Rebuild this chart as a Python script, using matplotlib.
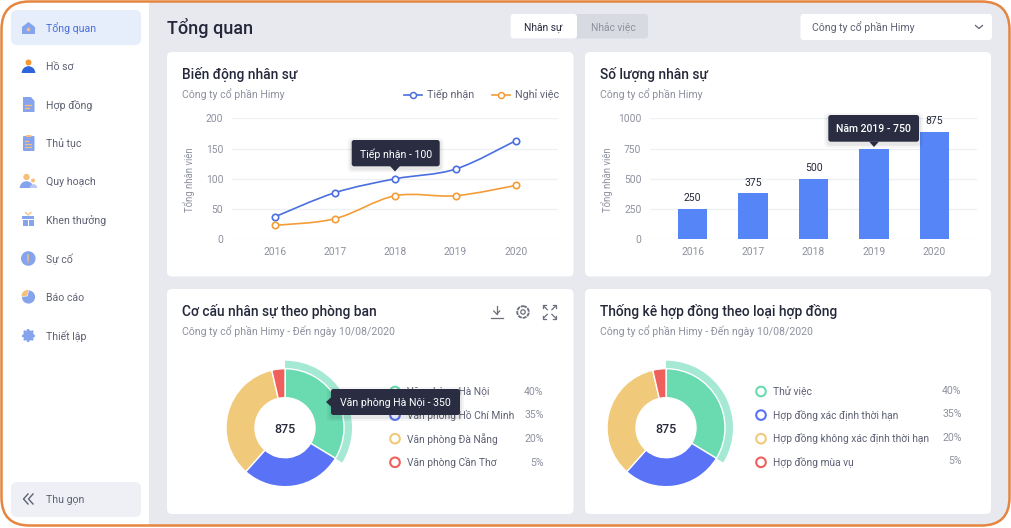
# lib data visualizations
import matplotlib
matplotlib.use("Agg")
import matplotlib.pyplot as plt
from matplotlib.patches import FancyBboxPatch, Rectangle, Circle, Polygon, PathPatch, Wedge
from matplotlib.path import Path
# ----------------------------------------------------------------------------------------

W, H = 1012, 528
plt.rcParams["font.family"] = ["Roboto", "DejaVu Sans"]

# chart data
years = ["2016", "2017", "2018", "2019", "2020"]
tiep_nhan = [37, 77, 100, 116, 163]
nghi_viec = [23, 34, 72, 72, 89]
line_yticks = [0, 50, 100, 150, 200]

bar_heights = [250, 382, 498, 750, 890]
# the 2019 label sits under the tooltip in the picture
bar_labels = ["250", "375", "500", "", "875"]
bar_yticks = [0, 250, 500, 750, 1000]

# slice sizes as drawn, the percent column is what the card prints
donut_shares = [33.7, 27.9, 34.8, 3.6]
donut_colors = ["#6adab0", "#5a72f5", "#f0ca7a", "#ef5f5c"]
donut_percents = ["40%", "35%", "20%", "5%"]
phong_ban = ["Văn phòng Hà Nội", "Văn phòng Hồ Chí Minh", "Văn phòng Đà Nẵng", "Văn phòng Cần Thơ"]
loai_hop_dong = ["Thử việc", "Hợp đồng xác định thời hạn", "Hợp đồng không xác định thời hạn", "Hợp đồng mùa vụ"]

menu_items = ["Tổng quan", "Hồ sơ", "Hợp đồng", "Thủ tục", "Quy hoạch", "Khen thưởng", "Sự cố", "Báo cáo", "Thiết lập"]

# colors
DARK = "#25283b"
GREY = "#8e919f"
MENU = "#5e6174"
GRID = "#eff0f4"
BLUE_LINE = "#4a6fe0"
ORANGE = "#f49d37"
ICON_BLUE = "#86a3ee"
ICON_ORANGE = "#f6c07a"
TIP = "#2a2d42"
# ----------------------------------------------------------------------------------------

def px_axes(fig, x0, y0, x1, y1, zorder=2):
    ax = fig.add_axes([x0 / W, 1 - y1 / H, (x1 - x0) / W, (y1 - y0) / H], zorder=zorder)
    ax.patch.set_alpha(0)
    return ax

def box(ax, x0, y0, x1, y1, r, color, **kw):
    p = FancyBboxPatch((x0, y0), x1 - x0, y1 - y0, boxstyle="round,pad=0,rounding_size=%s" % r,
                       facecolor=color, edgecolor="none", **kw)
    ax.add_patch(p)
    return p

def label(ax, x, y, s, size=10, color=DARK, ha="left", weight="normal"):
    ax.text(x, y - 0.8, s, fontsize=size * 0.72, color=color, ha=ha, va="center_baseline", weight=weight)

def card_title(ax, x, title, sub, y):
    label(ax, x, y, title, size=13.7, weight=500)
    label(ax, x, y + 20, sub, size=10.5, color=GREY)

def tooltip(ax, x0, y0, x1, y1, text, tip, weight=400):
    # soft shadow, then body and pointer
    for grow, alpha in [(4, 0.04), (2, 0.06)]:
        box(ax, x0 - grow, y0 - grow + 2, x1 + grow, y1 + grow + 2, 4, "#000000", alpha=alpha)
    box(ax, x0, y0, x1, y1, 2.5, TIP)
    ax.add_patch(Polygon(tip, closed=True, facecolor=TIP, edgecolor="none"))
    label(ax, (x0 + x1) / 2, (y0 + y1) / 2 + 0.5, text, size=10.5, color="white", ha="center", weight=weight)

def smooth_path(xs, ys):
    # catmull-rom through the data points, as bezier segments
    verts = [(xs[0], ys[0])]
    codes = [Path.MOVETO]
    n = len(xs)
    for i in range(n - 1):
        p0 = max(i - 1, 0)
        p3 = min(i + 2, n - 1)
        c1 = (xs[i] + (xs[i + 1] - xs[p0]) / 6, ys[i] + (ys[i + 1] - ys[p0]) / 6)
        c2 = (xs[i + 1] - (xs[p3] - xs[i]) / 6, ys[i + 1] - (ys[p3] - ys[i]) / 6)
        verts += [c1, c2, (xs[i + 1], ys[i + 1])]
        codes += [Path.CURVE4] * 3
    return Path(verts, codes)

def style_axes(ax, yticks, ymax):
    ax.set_xlim(-0.707, 4.70)
    ax.set_ylim(0, ymax)
    ax.set_xticks(range(len(years)))
    ax.set_xticklabels(years)
    ax.set_yticks(yticks)
    ax.grid(True, axis="y", color=GRID, linewidth=1)
    ax.set_axisbelow(True)
    ax.tick_params(length=0, labelsize=7.4, labelcolor=GREY)
    ax.tick_params(axis="x", pad=5.5)
    ax.tick_params(axis="y", pad=6.2)
    for s in ax.spines.values():
        s.set_visible(False)
    ax.set_ylabel("Tổng nhân viên", fontsize=6.9, color=GREY)
    ax.yaxis.set_label_coords(-0.114, 0.49)

def donut(fig, cx, cy):
    ax = px_axes(fig, cx - 72, cy - 72, cx + 72, cy + 72)
    # lighter ring on the hovered slice
    ax.pie([donut_shares[0], 100 - donut_shares[0]], radius=67, startangle=90, counterclock=False,
           colors=["#a5e9d5", "none"], wedgeprops={"width": 10, "linewidth": 0})
    ax.pie(donut_shares, radius=59, startangle=90, counterclock=False, colors=donut_colors,
           wedgeprops={"width": 29, "edgecolor": "white", "linewidth": 1.0})
    ax.set_xlim(-72, 72)
    ax.set_ylim(-72, 72)
    ax.set_aspect("equal")
    ax.text(0, 0, "875", fontsize=9, weight=500, color=DARK, ha="center", va="center_baseline")

def donut_legend(ax, ring_x, text_x, pct_x, names, pct_dy):
    for i, (name, pct) in enumerate(zip(names, donut_percents)):
        y = 391.5 + i * 23.6
        ax.add_patch(Circle((ring_x, y), 4.8, facecolor="white", edgecolor=donut_colors[i], linewidth=1.5))
        label(ax, text_x, y, name, size=10.25, color=MENU)
        label(ax, pct_x, y + pct_dy, pct, size=10.5, color=GREY, ha="right")
# ----------------------------------------------------------------------------------------

def draw_icons(ax):
    cx = 28
    # tong quan
    ax.add_patch(Polygon([(22, 27), (28.5, 22), (35, 27), (35, 34), (22, 34)], facecolor=ICON_BLUE, edgecolor="none"))
    ax.add_patch(Circle((28.5, 29.5), 1.8, facecolor=ICON_ORANGE, edgecolor="none"))
    # ho so
    ax.add_patch(Circle((cx + 0.5, 62.5), 3, facecolor="#f59a33", edgecolor="none"))
    ax.add_patch(Wedge((cx + 0.5, 73), 6.8, 180, 360, facecolor="#2f65dc", edgecolor="none"))
    # hop dong
    ax.add_patch(Polygon([(23, 97), (31, 97), (34.5, 101), (34.5, 112), (23, 112)], facecolor=ICON_BLUE, edgecolor="none"))
    ax.plot([25, 31], [104.5, 104.5], color=ICON_ORANGE, linewidth=1)
    ax.plot([25, 29], [107.5, 107.5], color=ICON_ORANGE, linewidth=1)
    # thu tuc
    box(ax, 23, 136, 34.5, 151, 1, ICON_BLUE)
    box(ax, 26, 135, 31.5, 137, 0.8, ICON_ORANGE)
    for y, x1 in [(141, 28), (144, 31), (146.5, 31)]:
        ax.plot([25.5, x1], [y, y], color=ICON_ORANGE, linewidth=0.9)
    # quy hoach
    ax.add_patch(Circle((26.5, 177), 3.2, facecolor=ICON_ORANGE, edgecolor="none"))
    ax.add_patch(Wedge((26.5, 188), 6.8, 180, 360, facecolor=ICON_BLUE, edgecolor="none"))
    ax.add_patch(Circle((33, 180.5), 2, facecolor=ICON_ORANGE, edgecolor="none"))
    ax.add_patch(Wedge((33.5, 188), 3.8, 180, 360, facecolor="#b9c9f3", edgecolor="none"))
    # khen thuong
    ax.add_patch(Rectangle((22, 216), 12.5, 3, facecolor=ICON_BLUE, edgecolor="none"))
    ax.add_patch(Rectangle((22.7, 220), 5, 6, facecolor=ICON_BLUE, edgecolor="none"))
    ax.add_patch(Rectangle((29, 220), 5, 6, facecolor=ICON_BLUE, edgecolor="none"))
    ax.plot([25.5, 28.2, 31], [212.5, 215, 212.5], color=ICON_ORANGE, linewidth=0.9)
    # su co
    ax.add_patch(Circle((28.3, 258.5), 7.3, facecolor=ICON_BLUE, edgecolor="none"))
    ax.plot([28.3, 28.3], [254.5, 259.5], color=ICON_ORANGE, linewidth=1.1)
    ax.add_patch(Circle((28.3, 262), 0.7, facecolor=ICON_ORANGE, edgecolor="none"))
    # bao cao
    ax.add_patch(Circle((28.5, 297), 6.6, facecolor=ICON_BLUE, edgecolor="none"))
    ax.add_patch(Wedge((27.5, 296), 6.3, 175, 280, facecolor=ICON_ORANGE, edgecolor="white", linewidth=0.4))
    # thiet lap
    ax.add_patch(Circle((28.5, 335.5), 5.4, facecolor=ICON_BLUE, edgecolor="none"))
    for a, b in [((22, 335.5), (35, 335.5)), ((28.5, 329), (28.5, 342)), ((23.9, 330.9), (33.1, 340.1)), ((23.9, 340.1), (33.1, 330.9))]:
        ax.plot([a[0], b[0]], [a[1], b[1]], color=ICON_BLUE, linewidth=1.6, solid_capstyle="butt")
    ax.add_patch(Circle((28.5, 335.5), 2.4, facecolor=ICON_ORANGE, edgecolor="none"))

def draw_tools(ax):
    c = "#6b6e7d"
    lw = 0.9
    # download
    x = 496.7
    ax.plot([x, x], [306, 314], color=c, linewidth=lw)
    ax.plot([x - 3, x, x + 3], [311, 314, 311], color=c, linewidth=lw)
    ax.plot([x - 6, x + 6], [317.5, 317.5], color=c, linewidth=lw)
    # settings
    ax.add_patch(Circle((523, 312), 5.8, facecolor="none", edgecolor=c, linewidth=1.3, linestyle=(0, (2.2, 0.5))))
    ax.add_patch(Circle((523, 312), 2.2, facecolor="none", edgecolor=c, linewidth=lw))
    # expand
    cx, cy, o, i = 549.6, 312, 6.7, 2.3
    for sx in (-1, 1):
        for sy in (-1, 1):
            ax.plot([cx + sx * (o - 3), cx + sx * o, cx + sx * o], [cy + sy * o, cy + sy * o, cy + sy * (o - 3)], color=c, linewidth=lw)
            ax.plot([cx + sx * i, cx + sx * (o - 0.6)], [cy + sy * i, cy + sy * (o - 0.6)], color=c, linewidth=lw)
# ----------------------------------------------------------------------------------------

fig = plt.figure(figsize=(W / 100, H / 100), dpi=100, facecolor="white")

# page layer, axes in pixels
bg = fig.add_axes([0, 0, 1, 1], zorder=0)
bg.set_xlim(0, W)
bg.set_ylim(H, 0)
bg.axis("off")

frame = box(bg, 1.5, 1.5, 1009.5, 525.5, 28, "#e8e9ef")
side = Rectangle((0, 0), 149.5, H, facecolor="white", edgecolor="none")
bg.add_patch(side)
side.set_clip_path(frame)

# sidebar
box(bg, 11, 10, 141, 45, 6, "#e6edfb")
menu_y = [28, 66.6, 105, 143.5, 181.7, 220, 258.7, 297.5, 336]
for i, (name, y) in enumerate(zip(menu_items, menu_y)):
    label(bg, 46, y, name, size=10.5, color="#4a6fdc" if i == 0 else MENU)
draw_icons(bg)
box(bg, 11, 482, 141, 517, 6, "#eff0f6")
for dx in (0, 5):
    bg.plot([28 + dx, 23.5 + dx, 28 + dx], [494, 499, 504], color=MENU, linewidth=1)
label(bg, 46, 500, "Thu gọn", size=10.5, color=MENU)

# header
label(bg, 167, 27, "Tổng quan", size=18, weight=500)
box(bg, 510.5, 14, 648, 38.5, 3, "#d8dae2")
box(bg, 510.5, 14, 577, 38.5, 3, "white")
label(bg, 543, 26.5, "Nhân sự", size=10.2, ha="center")
label(bg, 613, 26.5, "Nhắc việc", size=10.2, color=GREY, ha="center")
box(bg, 800.5, 14, 992, 40, 3, "white")
label(bg, 812, 27, "Công ty cổ phần Himy", size=10.5, color=MENU)
bg.plot([975.5, 979, 982.5], [25.5, 28.5, 25.5], color=MENU, linewidth=0.9)

# cards
box(bg, 167, 52, 573.5, 276.5, 5, "white")
box(bg, 585, 52, 991, 276.5, 5, "white")
box(bg, 167, 289, 573.5, 514, 5, "white")
box(bg, 585, 289, 991, 514, 5, "white")

card_title(bg, 182, "Biến động nhân sự", "Công ty cổ phần Himy", 74)
card_title(bg, 600, "Số lượng nhân sự", "Công ty cổ phần Himy", 74)
card_title(bg, 182, "Cơ cấu nhân sự theo phòng ban", "Công ty cổ phần Himy - Đến ngày 10/08/2020", 311)
card_title(bg, 600, "Thống kê hợp đồng theo loại hợp đồng", "Công ty cổ phần Himy - Đến ngày 10/08/2020", 311)
draw_tools(bg)

# line legend
for x0, color, name in [(404, BLUE_LINE, "Tiếp nhận"), (492, ORANGE, "Nghỉ việc")]:
    bg.plot([x0, x0 + 18], [94.5, 94.5], color=color, linewidth=1.2)
    bg.plot([x0 + 9], [94.5], marker="o", markersize=4.3, markerfacecolor="white", markeredgecolor=color, markeredgewidth=1.1)
    label(bg, x0 + 23.5, 94.5, name, size=10.8, color=MENU)

# line chart
ax1 = px_axes(fig, 232, 118.3, 558, 239.3)
style_axes(ax1, line_yticks, 200)
xs = list(range(len(years)))
for values, color in [(tiep_nhan, BLUE_LINE), (nghi_viec, ORANGE)]:
    ax1.add_patch(PathPatch(smooth_path(xs, values), facecolor="none", edgecolor=color, linewidth=1.2, zorder=3))
    ax1.plot(xs, values, linestyle="none", marker="o", markersize=4.6, markerfacecolor="white",
             markeredgecolor=color, markeredgewidth=1.2, zorder=4, clip_on=False)

# bar chart
ax2 = px_axes(fig, 650, 118.3, 976.7, 239.3)
style_axes(ax2, bar_yticks, 1000)
bars = ax2.bar(xs, bar_heights, width=0.485, color="#5585f7", zorder=3)
ax2.bar_label(bars, labels=bar_labels, padding=4, fontsize=7.5, color=DARK, clip_on=False)

# donuts
donut(fig, 285, 427.7)
donut(fig, 666, 427.7)
donut_legend(bg, 395, 406.7, 543.7, phong_ban, 0)
donut_legend(bg, 761, 773.3, 961.7, loai_hop_dong, -1)

# tooltips go above everything
top = px_axes(fig, 0, 0, W, H, zorder=10)
top.set_xlim(0, W)
top.set_ylim(H, 0)
top.axis("off")
tooltip(top, 351.7, 140, 439.7, 166.3, "Tiếp nhận - 100", [(390, 166), (400, 166), (395, 171.5)])
tooltip(top, 828.3, 115, 919, 141.7, "Năm 2019 - 750", [(869, 141.5), (879, 141.5), (874, 147)], weight=500)
tooltip(top, 331, 389, 460, 415, "Văn phòng Hà Nội - 350", [(331.5, 397), (331.5, 407), (326, 402)])

# frame border on top
bg_border = FancyBboxPatch((1.5, 1.5), 1008, 524, boxstyle="round,pad=0,rounding_size=28",
                           facecolor="none", edgecolor="#e5853f", linewidth=1.8, zorder=20)
top.add_patch(bg_border)

fig.savefig("out.png", dpi=100)
